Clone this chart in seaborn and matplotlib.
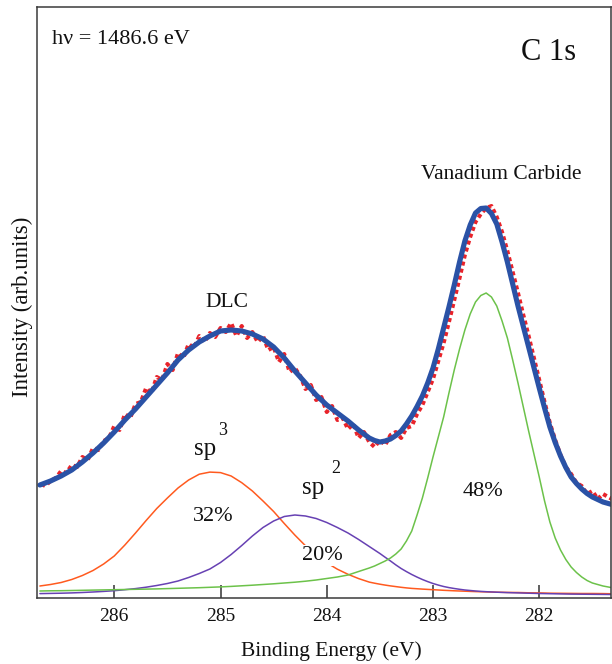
import numpy as np
import pandas as pd
import matplotlib
matplotlib.use("Agg")
import matplotlib.pyplot as plt
import seaborn as sns

# ---------------- data ----------------
energy_fit = [281.30, 281.35, 281.40, 281.45, 281.50, 281.55, 281.60, 281.65, 281.70, 281.75,
              281.80, 281.85, 281.90, 281.95, 282.00, 282.05, 282.10, 282.15, 282.20, 282.25,
              282.30, 282.35, 282.40, 282.45, 282.50, 282.55, 282.60, 282.65, 282.70, 282.75,
              282.80, 282.85, 282.90, 282.95, 283.00, 283.05, 283.10, 283.15, 283.20, 283.25,
              283.30, 283.35, 283.40, 283.45, 283.50, 283.55, 283.60,
              283.7, 283.8, 283.9, 284.0, 284.1, 284.2, 284.3, 284.4, 284.5, 284.6,
              284.7, 284.8, 284.9, 285.0, 285.1, 285.2, 285.3, 285.4, 285.5, 285.6,
              285.7, 285.8, 285.9, 286.0, 286.1, 286.2, 286.3, 286.4, 286.5, 286.6,
              286.7]

sp3_fit = [4.2, 4.3, 4.4, 4.45, 4.5, 4.5, 4.5, 4.55, 4.6, 4.65,
           4.7, 4.75, 4.8, 4.95, 5.1, 5.15, 5.2, 5.35, 5.5, 5.55,
           5.6, 5.7, 5.8, 5.95, 6.1, 6.25, 6.4, 6.6, 6.8, 7.0,
           7.2, 7.45, 7.7, 8.0, 8.3, 8.6, 8.9, 9.25, 9.6, 10.1,
           10.7, 11.4, 12.1, 12.9, 13.8, 14.8, 15.9,
           19.4, 23.7, 28.8, 35.2, 43.0, 52.2, 62.9, 74.5, 86.5, 97.0,
           107.0, 115.3, 122.0, 125.4, 125.9, 123.8, 118.0, 110.0, 100.0, 89.5,
           77.5, 65.0, 53.0, 42.0, 34.0, 27.5, 22.5, 18.5, 15.5, 13.5,
           12.0]

sp2_fit = [3.5, 3.55, 3.6, 3.65, 3.7, 3.75, 3.8, 3.85, 3.9, 4.0,
           4.1, 4.2, 4.3, 4.4, 4.5, 4.65, 4.8, 4.95, 5.1, 5.25,
           5.4, 5.6, 5.8, 6.05, 6.3, 6.6, 7.0, 7.5, 8.0, 8.7,
           9.5, 10.4, 11.5, 12.9, 14.5, 16.4, 18.5, 20.9, 23.5, 26.4,
           29.5, 33.1, 37.0, 40.7, 44.5, 48.0, 51.5,
           58.5, 65.0, 70.5, 75.5, 79.5, 82.0, 83.0, 81.5, 77.0, 70.5,
           62.0, 52.5, 43.5, 35.5, 29.0, 24.5, 20.5, 17.0, 14.5, 12.5,
           10.8, 9.4, 8.3, 7.3, 6.6, 6.0, 5.5, 5.1, 4.8, 4.6,
           4.4]

vc_fit = [10, 11, 12, 13.5, 15, 17.5, 21, 25.5, 31, 38.5,
          48, 60, 76, 97, 121, 144, 167, 191, 215, 238,
          260, 277, 292, 301, 305, 302.5, 296, 284, 268, 249,
          228, 205, 181, 161, 141, 120, 100, 83, 67, 57,
          49, 44, 40, 37, 34.5, 32, 30,
          26.5, 23, 21, 19.5, 18, 16.8, 15.8, 15, 14.2, 13.5,
          12.8, 12.2, 11.6, 11.1, 10.7, 10.3, 10, 9.7, 9.4, 9.1,
          8.9, 8.7, 8.5, 8.3, 8.1, 7.9, 7.7, 7.5, 7.3, 7.2,
          7.0]

envelope_fit = [93, 94.5, 96, 98.5, 101, 104.5, 109, 114.5, 121, 130.5,
                142, 155.5, 171, 190, 210, 230.5, 251, 271.5, 292, 314,
                336, 356, 374, 384.5, 390, 389.5, 385, 373, 357, 336,
                313, 291, 270, 249, 230, 215, 202, 191.5, 182, 174,
                167, 162.5, 159, 157, 156, 157.5, 160,
                168, 177, 185, 193, 203, 215, 227, 240, 251, 259,
                264, 267, 268, 267, 262, 256, 248, 238, 225, 213,
                201, 189, 178, 166, 155, 145, 136, 128, 122, 117,
                113]

energy_data = [281.30, 281.35, 281.40, 281.45, 281.50, 281.55, 281.60, 281.65, 281.70, 281.75,
               281.80, 281.85, 281.90, 281.95, 282.00, 282.05, 282.10, 282.15, 282.20, 282.25,
               282.30, 282.35, 282.40, 282.45, 282.50, 282.55, 282.60, 282.65, 282.70, 282.75,
               282.80, 282.85, 282.90, 282.95, 283.00, 283.05, 283.10, 283.15, 283.20, 283.25,
               283.30, 283.35, 283.40, 283.45, 283.50, 283.55, 283.60, 283.65, 283.70, 283.75,
               283.80, 283.85, 283.90, 283.95, 284.00, 284.05, 284.10, 284.15, 284.20, 284.25,
               284.30, 284.35, 284.40, 284.45, 284.50, 284.55, 284.60, 284.65, 284.70, 284.75,
               284.80, 284.85, 284.90, 284.95, 285.00, 285.05, 285.10, 285.15, 285.20, 285.25,
               285.30, 285.35, 285.40, 285.45, 285.50, 285.55, 285.60, 285.65, 285.70, 285.75,
               285.80, 285.85, 285.90, 285.95, 286.00, 286.05, 286.10, 286.15, 286.20, 286.25,
               286.30, 286.35, 286.40, 286.45, 286.50, 286.55, 286.60, 286.65, 286.70]

intensity_data = [98, 101, 104, 99, 107, 104, 112, 115, 124, 131,
                  143, 158, 175, 196, 218, 240, 262, 283, 305, 326,
                  347, 366, 381, 392, 390, 384, 376, 361, 343, 320,
                  298, 276, 255, 237, 219, 206, 193, 184, 172, 170,
                  160, 166, 163, 153, 158, 151, 156, 166, 160, 174,
                  169, 180, 178, 192, 186, 201, 198, 213, 209, 222,
                  230, 226, 244, 236, 251, 248, 262, 256, 266, 260,
                  272, 262, 275, 266, 270, 261, 265, 256, 262, 250,
                  254, 240, 245, 228, 234, 218, 221, 205, 210, 196,
                  194, 180, 184, 168, 172, 160, 157, 148, 150, 138,
                  141, 131, 133, 125, 127, 120, 117, 112, 115]

x_ticks = [286, 285, 284, 283, 282]
x_limits = (286.73, 281.32)
y_limits = (0, 591)

# ---------------- styling ----------------
W, H = 612, 664
sns.set_style("ticks")
plt.rcParams["font.family"] = ["Liberation Serif", "DejaVu Serif"]

fig = plt.figure(figsize=(W / 100, H / 100), dpi=100)
ax = fig.add_axes([36.7 / W, 1 - 598 / H, (611.5 - 36.7) / W, (598 - 7) / H])

fits = pd.DataFrame({"E": energy_fit, "sp3": sp3_fit, "sp2": sp2_fit,
                     "vc": vc_fit, "env": envelope_fit})
data = pd.DataFrame({"E": energy_data, "I": intensity_data})

sns.lineplot(data=fits, x="E", y="sp3", ax=ax, color="#ff5a1f", lw=1.1,
             sort=False, estimator=None)
sns.lineplot(data=fits, x="E", y="sp2", ax=ax, color="#6741b3", lw=1.1,
             sort=False, estimator=None)
sns.lineplot(data=fits, x="E", y="vc", ax=ax, color="#6cc24a", lw=1.1,
             sort=False, estimator=None)
sns.lineplot(data=data, x="E", y="I", ax=ax, color="#e8232a", lw=2.9,
             linestyle=(0, (1.0, 0.8)), sort=False, estimator=None)
sns.lineplot(data=fits, x="E", y="env", ax=ax, color="#2a52a6", lw=3.7,
             sort=False, estimator=None, solid_capstyle="round",
             solid_joinstyle="round")

ax.set_xlim(*x_limits)
ax.set_ylim(*y_limits)
ax.set_xticks(x_ticks)
ax.set_xticklabels([str(t) for t in x_ticks])
ax.set_yticks([])
ax.tick_params(axis="x", direction="in", length=9.4, width=1.1, color="#333333",
               labelsize=14, pad=7, labelcolor="#111111")
for s in ax.spines.values():
    s.set_color("#3a3a3a")
    s.set_linewidth(1.1)

ax.set_xlabel("")
ax.set_ylabel("")

def fx(px):
    return px / W

def fy(py):
    return 1 - py / H

txt = dict(color="#111111")
fig.text(fx(52), fy(43.5), "hν = 1486.6 eV", fontsize=16, ha="left", va="baseline", **txt)
fig.text(fx(521), fy(59.5), "C 1s", fontsize=22, ha="left", va="baseline", **txt)
fig.text(fx(501), fy(179), "Vanadium Carbide", fontsize=15.5, ha="center", va="baseline", **txt)
fig.text(fx(226.5), fy(307), "DLC", fontsize=15.5, ha="center", va="baseline", **txt)
fig.text(fx(194), fy(455), "sp", fontsize=18, ha="left", va="baseline", **txt)
fig.text(fx(218), fy(435), "3", fontsize=13, ha="left", va="baseline", **txt)
fig.text(fx(302), fy(494), "sp", fontsize=18, ha="left", va="baseline", **txt)
fig.text(fx(331), fy(473), "2", fontsize=13, ha="left", va="baseline", **txt)
fig.text(fx(213), fy(521), "32%", fontsize=16, ha="center", va="baseline", **txt)
fig.text(fx(322.5), fy(560), "20%", fontsize=16, ha="center", va="baseline",
         bbox=dict(facecolor="white", edgecolor="none", pad=1.0), **txt)
fig.text(fx(483), fy(496), "48%", fontsize=16, ha="center", va="baseline", **txt)
fig.text(fx(331), fy(656), "Binding Energy (eV)", fontsize=15.5, ha="center",
         va="baseline", **txt)
fig.text(fx(22), fy(307), "Intensity (arb.units)", fontsize=16.5, ha="center",
         va="center", rotation=90, **txt)

fig.savefig("out.png", dpi=100)
